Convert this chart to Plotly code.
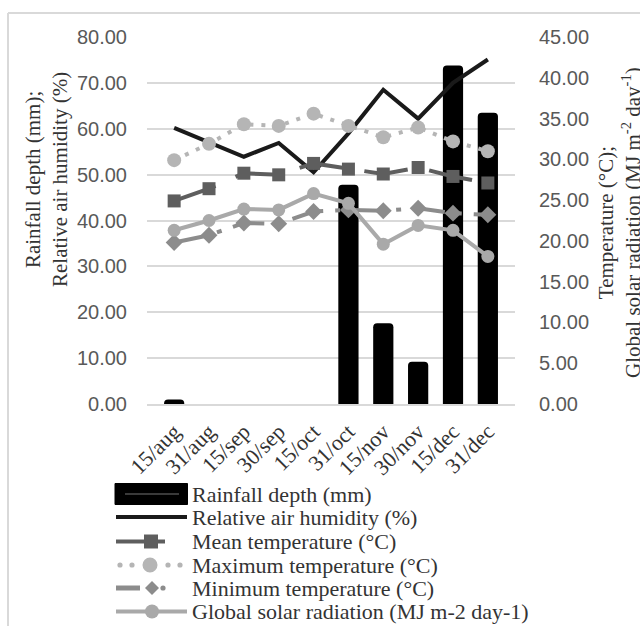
import plotly.graph_objects as go

categories = ["15/aug", "31/aug", "15/sep", "30/sep", "15/oct",
              "31/oct", "15/nov", "30/nov", "15/dec", "31/dec"]
rainfall = [1.0, 0, 0, 0, 0, 47.8, 17.6, 9.2, 73.8, 63.5]
humidity = [60.2, 57.0, 53.9, 56.9, 50.5, 59.0, 68.5, 62.2, 70.0, 75.1]
mean_temp = [24.9, 26.4, 28.3, 28.1, 29.5, 28.8, 28.2, 29.0, 27.9, 27.1]
max_temp = [29.9, 31.9, 34.3, 34.1, 35.6, 34.1, 32.7, 33.9, 32.2, 31.0]
min_temp = [19.8, 20.7, 22.2, 22.1, 23.6, 23.8, 23.7, 24.0, 23.4, 23.2]
solar = [21.3, 22.5, 23.9, 23.8, 25.8, 24.6, 19.6, 21.9, 21.3, 18.1]

left_ticks = [0, 10, 20, 30, 40, 50, 60, 70, 80]
right_ticks = [0, 5, 10, 15, 20, 25, 30, 35, 40, 45]

L, R, T, B = 147, 125, 37, 222
W, H = 640, 626
PW, PH = W - L - R, H - T - B


def px(x):
    return (x - L) / PW


def py(y):
    return (H - B - y) / PH


C_HUM = "#1a1a1a"
C_MEAN = "#5e5e5e"
C_MAX = "#b5b5b5"
C_MIN = "#8c8c8c"
C_SOL = "#a9a9a9"
SERIF = "Liberation Serif"
SANS = "Liberation Sans"

fig = go.Figure()
fig.add_trace(go.Bar(x=categories, y=rainfall, name="Rainfall depth (mm)",
                     width=0.58, marker=dict(color="black", cornerradius=4,
                                             line=dict(width=0)),
                     yaxis="y"))
fig.add_trace(go.Scatter(x=categories, y=humidity, name="Relative air humidity (%)",
                         mode="lines", line=dict(color=C_HUM, width=4), yaxis="y"))
fig.add_trace(go.Scatter(x=categories, y=mean_temp, name="Mean temperature (°C)",
                         mode="lines+markers",
                         line=dict(color=C_MEAN, width=4, dash="44px,22px"),
                         marker=dict(symbol="square", size=13, color=C_MEAN),
                         yaxis="y2"))
fig.add_trace(go.Scatter(x=categories, y=max_temp, name="Maximum temperature (°C)",
                         mode="lines+markers",
                         line=dict(color=C_MAX, width=4, dash="4px,8px"),
                         marker=dict(symbol="circle", size=14, color=C_MAX),
                         yaxis="y2"))
fig.add_trace(go.Scatter(x=categories, y=min_temp, name="Minimum temperature (°C)",
                         mode="lines+markers",
                         line=dict(color=C_MIN, width=4, dash="32px,12px,5px,12px"),
                         marker=dict(symbol="diamond", size=13, color=C_MIN),
                         yaxis="y2"))
fig.add_trace(go.Scatter(x=categories, y=solar, name="Global solar radiation (MJ m-2 day-1)",
                         mode="lines+markers",
                         line=dict(color=C_SOL, width=4),
                         marker=dict(symbol="circle", size=13, color=C_SOL),
                         yaxis="y2"))

shapes = []
annotations = []

# outer chart border
shapes.append(dict(type="line", xref="paper", yref="paper", x0=px(8), x1=px(700),
                   y0=py(13), y1=py(13), line=dict(color="#d9d9d9", width=2)))
shapes.append(dict(type="line", xref="paper", yref="paper", x0=px(8), x1=px(8),
                   y0=py(13), y1=py(700), line=dict(color="#d9d9d9", width=2)))

# custom legend
rows = [494, 517, 541.5, 565, 588, 611.5]
names = ["Rainfall depth (mm)", "Relative air humidity (%)", "Mean temperature (°C)",
         "Maximum temperature (°C)", "Minimum temperature (°C)",
         "Global solar radiation (MJ m-2 day-1)"]
TX = 190


def line(x0, x1, y, color, width, dash="solid"):
    shapes.append(dict(type="line", xref="paper", yref="paper", x0=px(x0), x1=px(x1),
                       y0=py(y), y1=py(y), line=dict(color=color, width=width, dash=dash)))


def circle(cx, cy, r, color):
    shapes.append(dict(type="circle", xref="paper", yref="paper", x0=px(cx - r), x1=px(cx + r),
                       y0=py(cy - r), y1=py(cy + r), fillcolor=color, line=dict(width=0)))


# rainfall
y = rows[0]
shapes.append(dict(type="rect", xref="paper", yref="paper", x0=px(115), x1=px(187.5),
                   y0=py(y - 10.5), y1=py(y + 10.5), fillcolor="black",
                   line=dict(color="black", width=1)))
line(125, 179, y, "#3a3a3a", 2)
# humidity
line(116, 187, rows[1], C_HUM, 4)
# mean
y = rows[2]
line(116, 144, y, C_MEAN, 4)
line(158, 165, y, C_MEAN, 4)
shapes.append(dict(type="rect", xref="paper", yref="paper", x0=px(144), x1=px(158),
                   y0=py(y - 7), y1=py(y + 7), fillcolor=C_MEAN, line=dict(width=0)))
# max
y = rows[3]
for cx in (120, 132, 168, 180):
    circle(cx, y, 2.6, C_MAX)
circle(150, y, 7.5, C_MAX)
# min
y = rows[4]
line(116, 140, y, C_MIN, 5)
d = 7
shapes.append(dict(type="path", xref="paper", yref="paper",
                   path=f"M {px(152 - d)},{py(y)} L {px(152)},{py(y - d)} L {px(152 + d)},{py(y)} "
                        f"L {px(152)},{py(y + d)} Z",
                   fillcolor=C_MIN, line=dict(width=0)))
circle(163, y, 2.6, C_MIN)
# solar
y = rows[5]
line(116, 187, y, C_SOL, 4)
circle(152, y, 7, C_SOL)

for nm, yy in zip(names, rows):
    annotations.append(dict(text=nm, xref="paper", yref="paper", x=px(TX), y=py(yy),
                            xanchor="left", yanchor="middle", showarrow=False,
                            font=dict(family=SERIF, size=22, color="#333333")))

# axis titles
annotations.append(dict(text="Rainfall depth (mm);<br>Relative air humidity (%)",
                        xref="paper", yref="paper", x=px(46), y=py(180), textangle=-90,
                        showarrow=False, xanchor="center", yanchor="middle",
                        font=dict(family=SERIF, size=21, color="#333333")))
annotations.append(dict(text="Temperature (°C);<br>Global solar radiation (MJ m<sup>-2</sup> day<sup>-1</sup>)",
                        xref="paper", yref="paper", x=px(620), y=py(223), textangle=-90,
                        showarrow=False, xanchor="center", yanchor="middle",
                        font=dict(family=SERIF, size=21, color="#333333")))

fig.update_layout(
    width=W, height=H,
    margin=dict(l=L, r=R, t=T, b=B, autoexpand=False),
    paper_bgcolor="white", plot_bgcolor="white",
    showlegend=False,
    xaxis=dict(type="category", categoryorder="array", categoryarray=categories,
               tickangle=-45, ticks="", showgrid=False, showline=True,
               linecolor="#d9d9d9", linewidth=2, ticklabelstandoff=4,
               tickfont=dict(family=SERIF, size=22, color="#333333")),
    yaxis=dict(range=[0, 80], tickvals=left_ticks, tickformat=".2f",
               showgrid=True, gridcolor="#d9d9d9", gridwidth=2, zeroline=False,
               ticks="", ticklabelstandoff=19,
               tickfont=dict(family=SANS, size=20, color="#595959")),
    yaxis2=dict(range=[0, 45], tickvals=right_ticks, tickformat=".2f",
                overlaying="y", side="right", showgrid=False, zeroline=False,
                ticks="", ticklabelstandoff=23,
                tickfont=dict(family=SANS, size=20, color="#595959")),
    shapes=shapes,
    annotations=annotations,
)

fig.write_html("out.html", config={"displayModeBar": False},
               post_script="document.body.style.margin='0';")
